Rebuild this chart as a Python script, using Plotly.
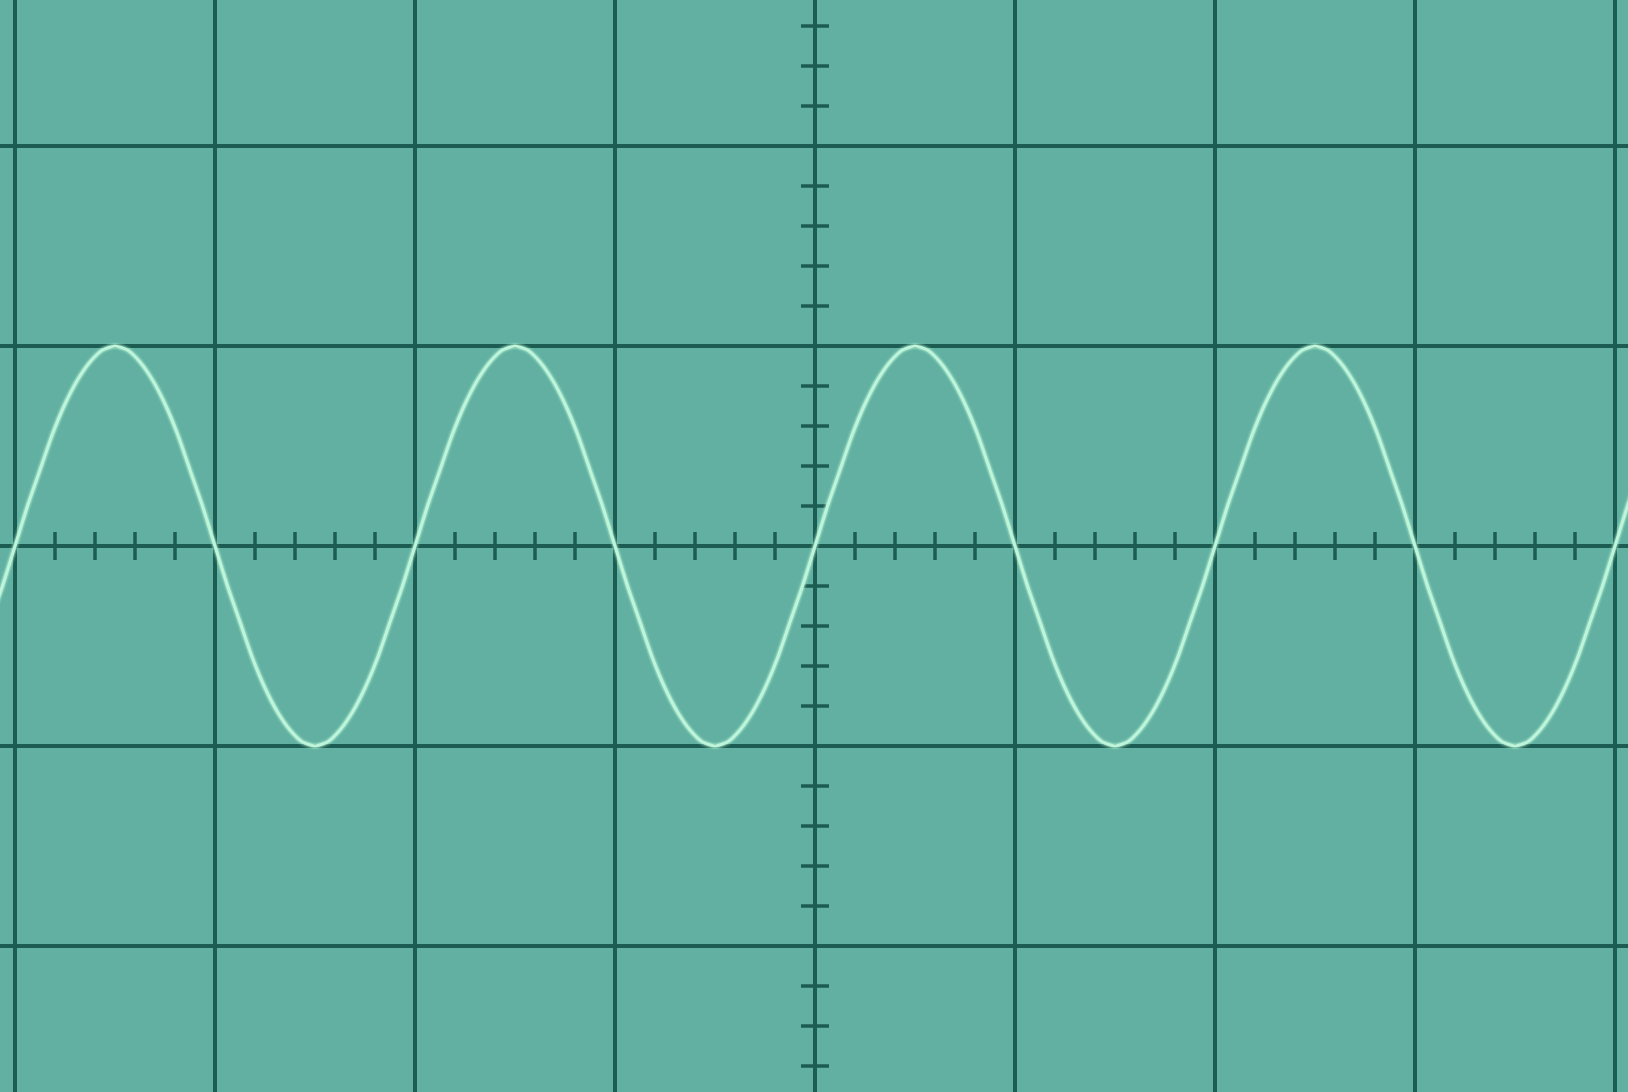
import plotly.graph_objects as go

# Trace values (divisions) read from the screen over one period (2 divisions),
# sampled every 1/16 division starting at a rising zero crossing
one_period = [
    0.0, 0.20, 0.38, 0.56, 0.71, 0.83, 0.92, 0.98,
    1.0, 0.98, 0.92, 0.83, 0.71, 0.56, 0.38, 0.20,
    0.0, -0.20, -0.38, -0.56, -0.71, -0.83, -0.92, -0.98,
    -1.0, -0.98, -0.92, -0.83, -0.71, -0.56, -0.38, -0.20,
]
# The screen shows the same period repeated, starting at x = -4.125 div
y_div = [-0.38, -0.20] + one_period * 4 + [0.0, 0.20, 0.38]
x_div = [round(-4.125 + 0.0625 * i, 4) for i in range(len(y_div))]

# Graticule minor tick positions (0.2 division steps)
x_minor = [round(-4.0 + 0.2 * i, 2) for i in range(41)]
y_minor = [round(-2.6 + 0.2 * i, 2) for i in range(27)]

BG = "#61b0a1"
GRID = "#1d5c52"
TRACE = "#bdf4da"

fig = go.Figure()

fig.add_trace(go.Scatter(
    x=x_minor, y=[0] * len(x_minor), mode="markers",
    marker=dict(symbol="line-ns", size=20, line=dict(color=GRID, width=3.5)),
    hoverinfo="skip", showlegend=False,
))
fig.add_trace(go.Scatter(
    x=[0] * len(y_minor), y=y_minor, mode="markers",
    marker=dict(symbol="line-ew", size=20, line=dict(color=GRID, width=3.5)),
    hoverinfo="skip", showlegend=False,
))
for w, c in [(8, "rgba(175,240,210,0.15)"), (5.5, "rgba(180,245,215,0.35)")]:
    fig.add_trace(go.Scatter(
        x=x_div, y=y_div, mode="lines",
        line=dict(color=c, width=w, shape="spline", smoothing=0.6),
        hoverinfo="skip", showlegend=False,
    ))
fig.add_trace(go.Scatter(
    x=x_div, y=y_div, mode="lines",
    line=dict(color=TRACE, width=3.2, shape="spline", smoothing=0.6),
    showlegend=False,
))

axis_common = dict(
    showgrid=True, gridcolor=GRID, gridwidth=3.5, dtick=1, tick0=0,
    zeroline=True, zerolinecolor=GRID, zerolinewidth=4,
    showticklabels=False, ticks="", showline=False, fixedrange=True,
)
fig.update_layout(
    width=1628, height=1092,
    margin=dict(l=0, r=0, t=0, b=0),
    paper_bgcolor=BG, plot_bgcolor=BG,
    xaxis=dict(range=[-4.075, 4.065], **axis_common),
    yaxis=dict(range=[-2.73, 2.73], **axis_common),
    showlegend=False,
)

fig.write_html("out.html", config={"displayModeBar": False},
               post_script="document.body.style.margin='0';document.body.style.overflow='hidden';")
